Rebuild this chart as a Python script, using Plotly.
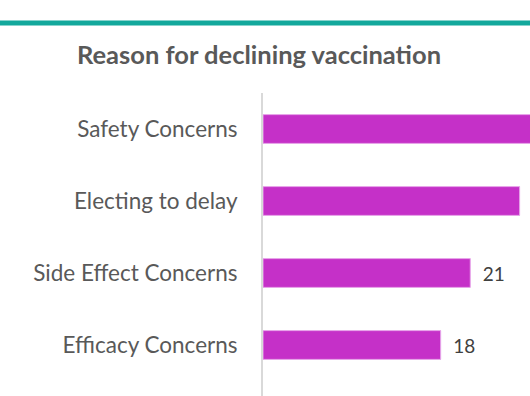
import plotly.graph_objects as go

categories = ["Safety Concerns", "Electing to delay", "Side Effect Concerns", "Efficacy Concerns"]
values = [30, 26, 21, 18]
# value labels as seen in the reference (the two longest bars run past the visible edge)
value_labels = ["", "", "21", "18"]
title_text = "Reason for declining vaccination"

W, H = 530, 396
L, T = 263, 93

fig = go.Figure(
    go.Bar(
        x=values,
        y=categories,
        orientation="h",
        width=0.4,
        marker=dict(color="#C530C8", line=dict(color="#E7A6E9", width=1)),
        text=value_labels,
        texttemplate="\u2002%{text}",
        textposition="outside",
        textfont=dict(family="Lato", size=19, color="#404040"),
        cliponaxis=True,
        hoverinfo="skip",
    )
)

plot_h = H - T
fig.update_layout(
    width=W,
    height=H,
    margin=dict(l=L, r=0, t=T, b=0, pad=0),
    paper_bgcolor="white",
    plot_bgcolor="white",
    showlegend=False,
    title=dict(
        text="<b>" + title_text + "</b>",
        x=259 / W,
        xref="container",
        xanchor="center",
        y=1 - 55 / H,
        yref="container",
        yanchor="middle",
        font=dict(family="Lato", size=25.5, color="#595959"),
    ),
    xaxis=dict(
        range=[0, (W - L) / 9.87],
        showgrid=False,
        zeroline=False,
        showline=False,
        showticklabels=False,
        ticks="",
    ),
    yaxis=dict(
        type="category",
        range=[-0.5 + plot_h / 72, -0.5],
        showgrid=False,
        zeroline=False,
        showline=True,
        linecolor="#D9D9D9",
        linewidth=2,
        ticks="",
        ticklabelstandoff=19,
        tickfont=dict(family="Lato", size=22.5, color="#595959"),
    ),
    shapes=[
        dict(
            type="line",
            xref="paper",
            yref="paper",
            x0=-1.2,
            x1=1.2,
            y0=(H - 23) / plot_h,
            y1=(H - 23) / plot_h,
            line=dict(color="#13A89C", width=5),
        )
    ],
)

fig.write_html(
    "out.html",
    config={"displayModeBar": False},
    post_script="document.body.style.margin='0';document.body.style.overflow='hidden';",
)
